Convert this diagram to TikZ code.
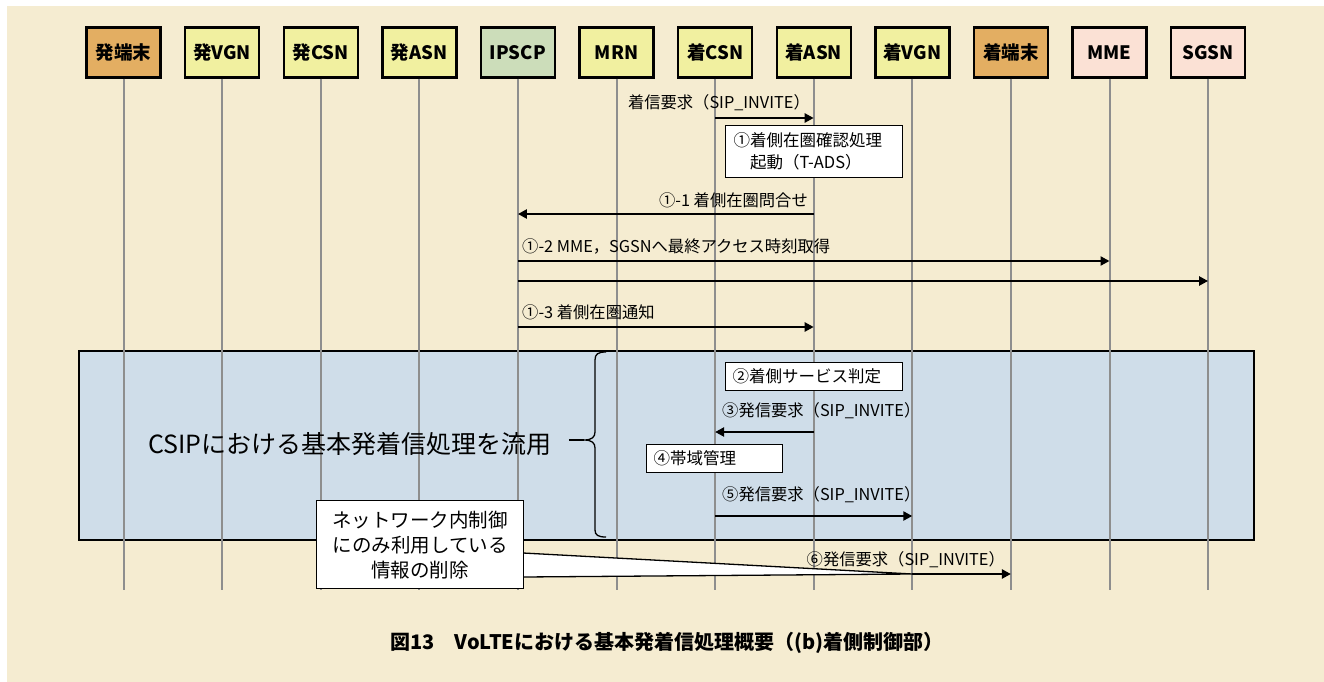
\documentclass[tikz,border=0pt]{standalone}
\usepackage{fontspec}
\setmainfont{Noto Sans CJK JP}
\usetikzlibrary{arrows.meta,calc}
\definecolor{bgc}{HTML}{F5ECD1}
\definecolor{termc}{HTML}{E3AE62}
\definecolor{nodec}{HTML}{F1F0A0}
\definecolor{scpc}{HTML}{CCDDBA}
\definecolor{mmec}{HTML}{FBE1D5}
\definecolor{areac}{HTML}{CFDDE9}
\definecolor{lifec}{HTML}{8E8E8E}
\tikzset{
  hdr/.style={draw=black, line width=2.4pt, minimum width=74pt, minimum height=50pt,
    font=\fontsize{18.5}{20}\selectfont\bfseries, inner sep=0pt},
  life/.style={draw=lifec, line width=2pt},
  msg/.style={draw=black, line width=2.8pt, -{Triangle[length=9pt,width=9pt]}},
  lbl/.style={font=\fontsize{16.3}{18}\selectfont, inner sep=0pt},
  note/.style={draw=black, fill=white, line width=1.3pt, font=\fontsize{16.5}{22}\selectfont,
    inner sep=0pt, align=left},
}
\begin{document}
\begin{tikzpicture}[x=1pt,y=-1pt]
\useasboundingbox (0,0) rectangle (1324,682);
\fill[white] (0,0) rectangle (1324,682);
\fill[bgc] (7,6) rectangle (1324,682);

% shaded area
\node[draw=black, fill=areac, line width=1.8pt, minimum width=1175pt, minimum height=189pt, inner sep=0pt, anchor=north west] (area) at (78,350) {};

% headers
\node[hdr, fill=termc] (h1) at (123.5,52.5) {発端末};
\node[hdr, fill=nodec] (h2) at (222.1,52.5) {発VGN};
\node[hdr, fill=nodec] (h3) at (320.7,52.5) {発CSN};
\node[hdr, fill=nodec] (h4) at (419.3,52.5) {発ASN};
\node[hdr, fill=scpc]  (h5) at (517.9,52.5) {IPSCP};
\node[hdr, fill=nodec] (h6) at (616.5,52.5) {MRN};
\node[hdr, fill=nodec] (h7) at (715.1,52.5) {着CSN};
\node[hdr, fill=nodec] (h8) at (813.7,52.5) {着ASN};
\node[hdr, fill=nodec] (h9) at (912.3,52.5) {着VGN};
\node[hdr, fill=termc] (h10) at (1010.9,52.5) {着端末};
\node[hdr, fill=mmec]  (h11) at (1109.5,52.5) {MME};
\node[hdr, fill=mmec]  (h12) at (1208.1,52.5) {SGSN};

% lifelines
\foreach \i in {1,...,12} {
  \coordinate (e\i) at ($(h\i.center)+(0,537.5)$);
  \draw[life] (h\i.south) -- (e\i);
}

% brace and big text
\node[font=\fontsize{25}{28}\selectfont, inner sep=0pt] (csip) at (350,444) {CSIPにおける基本発着信処理を流用};
\coordinate (btip) at (584,440);
\draw[line width=1.3pt] ($(csip.east)+(17,-4)$) -- (btip);
\draw[line width=1.3pt] (606,352) .. controls (598,352) and (595,354) .. (595,360) -- (595,432)
  .. controls (595,437) and (592,440) .. (btip)
  .. controls (592,440) and (595,443) .. (595,448) -- (595,530)
  .. controls (595,535) and (598,537) .. (606,537);

% messages
\node[lbl, anchor=east] (l0) at (810,103) {着信要求（SIP\_INVITE）};
\draw[msg] (h7 |- 0,118) -- (h8 |- 0,118);

\node[note, minimum width=177pt, minimum height=52pt, text width=161pt, anchor=north west] (n1) at (725,125)
  {①着側在圏確認処理\\\hspace*{1em}起動（T-ADS）};

\node[lbl, anchor=east] (l1) at (808,200) {①-1 着側在圏問合せ};
\draw[msg] (h8 |- 0,214) -- (h5 |- 0,214);

\node[lbl, anchor=west] (l2) at (522,246) {①-2 MME，SGSNへ最終アクセス時刻取得};
\draw[msg] (h5 |- 0,261) -- (h11 |- 0,261);
\draw[msg] (h5 |- 0,281) -- (h12 |- 0,281);

\node[lbl, anchor=west] (l3) at (522,312) {①-3 着側在圏通知};
\draw[msg] (h5 |- 0,327) -- (h8 |- 0,327);

\node[note, minimum width=177pt, minimum height=28pt, text width=163pt, anchor=north west] (n2) at (725,362)
  {②着側サービス判定};

\node[lbl, anchor=west] (l4) at (722,411) {③発信要求（SIP\_INVITE）};
\draw[msg] (h8 |- 0,432) -- (h7 |- 0,432);

\node[note, minimum width=136pt, minimum height=28pt, text width=122pt, anchor=north west] (n3) at (646,444)
  {④帯域管理};

\node[lbl, anchor=west] (l5) at (722,495) {⑤発信要求（SIP\_INVITE）};
\draw[msg] (h7 |- 0,516) -- (h9 |- 0,516);

\node[lbl, anchor=east] (l6) at (1005,560) {⑥発信要求（SIP\_INVITE）};
\coordinate (tip6) at (h9 |- 0,574);
\draw[msg] (tip6) -- (h10 |- 0,574);

% callout
\draw[line width=1.3pt, fill=white] (523,553) -- (tip6) -- (523,577) -- cycle;
\node[draw=black, fill=white, line width=1.3pt, minimum width=207pt, minimum height=88pt, inner sep=0pt,
  align=center, font=\fontsize{19.5}{25}\selectfont, anchor=north west] (call) at (316,500)
  {ネットワーク内制御\\にのみ利用している\\情報の削除};

% caption
\node[font=\fontsize{20}{22}\selectfont\bfseries, inner sep=0pt] (cap) at (667,643)
  {図13　VoLTEにおける基本発着信処理概要（(b)着側制御部）};
\end{tikzpicture}
\end{document}
